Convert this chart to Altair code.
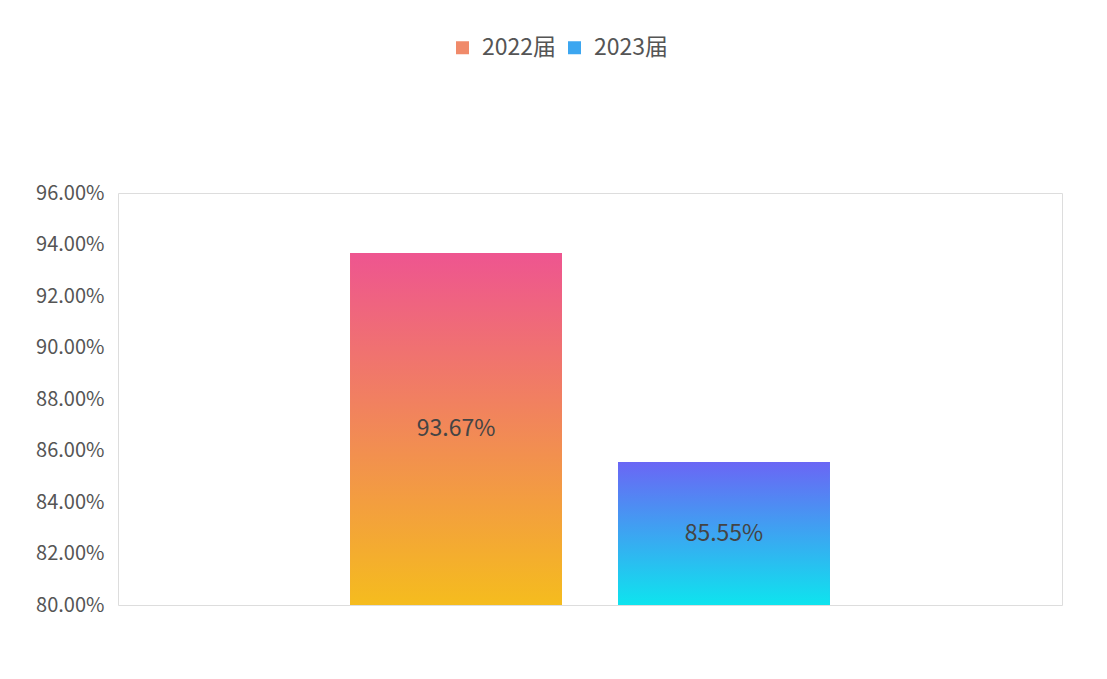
import altair as alt
import pandas as pd

series = ["2022届", "2023届"]
values = [0.9367, 0.8555]
labels = ["93.67%", "85.55%"]
y_ticks = [0.80, 0.82, 0.84, 0.86, 0.88, 0.90, 0.92, 0.94, 0.96]
y_base = 0.80
y_max = 0.96

grad_2022 = {"gradient": "linear", "x1": 0, "y1": 0, "x2": 0, "y2": 1,
             "stops": [{"offset": 0, "color": "#EE5590"}, {"offset": 1, "color": "#F5BC1E"}]}
grad_2023 = {"gradient": "linear", "x1": 0, "y1": 0, "x2": 0, "y2": 1,
             "stops": [{"offset": 0, "color": "#6A66F5"}, {"offset": 1, "color": "#0EE4EE"}]}

df = pd.DataFrame({"series": series, "value": values, "label": labels})

FONT = "Noto Sans CJK SC"

x_enc = alt.X("series:N", sort=series, axis=None,
              scale=alt.Scale(paddingInner=0.209, paddingOuter=0.866))
y_enc = alt.Y("value:Q",
              scale=alt.Scale(domain=[y_base, y_max], zero=False, nice=False),
              axis=alt.Axis(format=".2%", values=y_ticks, title=None, ticks=False,
                            domain=False, grid=False, labelPadding=14,
                            labelFontSize=20, labelColor="#555555", labelFont=FONT,
                            minExtent=105, maxExtent=105))

base = alt.Chart(df).transform_calculate(base=str(y_base))

legend_bars = base.mark_bar().encode(
    x=x_enc, y=y_enc, y2="base:Q",
    color=alt.Color("series:N", sort=series,
                    scale=alt.Scale(domain=series, range=["#F08A6A", "#3CA6F0"]),
                    legend=alt.Legend(title=None, orient="none", direction="horizontal",
                                      legendX=333, legendY=-157,
                                      symbolType="square", symbolSize=169,
                                      symbolStrokeWidth=0,
                                      labelFontSize=23, labelColor="#555555",
                                      labelFont=FONT, columnPadding=6, labelOffset=8)),
)

bar22 = base.transform_filter(alt.datum.series == series[0]).mark_bar(fill=grad_2022).encode(
    x=x_enc, y=y_enc, y2="base:Q")
bar23 = base.transform_filter(alt.datum.series == series[1]).mark_bar(fill=grad_2023).encode(
    x=x_enc, y=y_enc, y2="base:Q")

text = base.transform_calculate(mid="(datum.value + datum.base) / 2").mark_text(
    fontSize=23, color="#444444", font=FONT
).encode(x=x_enc, y=alt.Y("mid:Q"), text="label:N")

chart = alt.layer(legend_bars, bar22, bar23, text).properties(
    width=944, height=412,
    padding={"left": 5, "top": 28, "right": 20, "bottom": 40},
).configure_view(stroke="#dddddd", strokeWidth=1).configure(background="white")

chart.save("out.html", embed_options={"renderer": "svg", "actions": False})
